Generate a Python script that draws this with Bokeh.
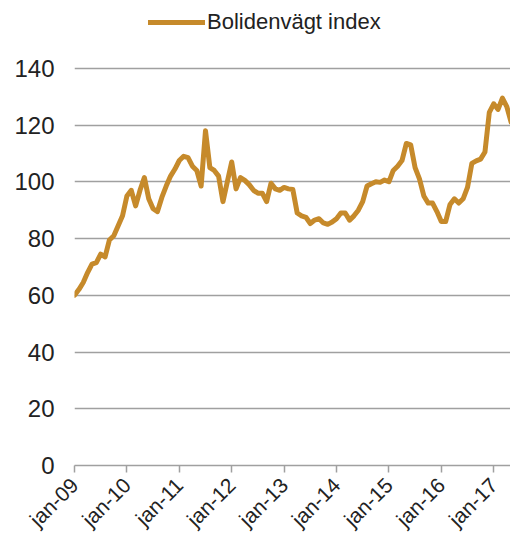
import math
from bokeh.plotting import figure
from bokeh.models import ColumnDataSource, Range1d, FixedTicker, Legend, LegendItem
from bokeh.embed import file_html
from bokeh.resources import INLINE

# month index since jan-2009
months = list(range(101))
index_values = [
    60, 62, 64.5, 68, 71, 71.5, 74.5, 73.5, 79.5, 81, 84.5, 88,
    95, 97, 91.5, 97, 101.5, 94, 90.5, 89.5, 94.5, 98.5, 102, 104.5,
    107.5, 109, 108.5, 105.5, 104, 98.5, 118, 105, 104, 102, 93, 100,
    107, 97.5, 101.5, 100.5, 99, 97, 96, 96, 93, 99.5, 97.5, 97,
    98, 97.5, 97.3, 89, 88, 87.5, 85.3, 86.5, 87, 85.5, 85, 85.8,
    87, 89, 89, 86.5, 88, 90, 93, 98.5, 99.3, 100, 99.8, 100.6,
    100, 104, 105.5, 107.5, 113.5, 113, 105, 101, 95, 92.5, 92.5, 89.5,
    86, 86, 92, 94, 92.5, 94, 98, 106.5, 107.4, 108, 110.5, 124.5,
    127.5, 125.5, 129.5, 126.5, 121,
]
tick_months = [0, 12, 24, 36, 48, 60, 72, 84, 96]
tick_labels = ["jan-09", "jan-10", "jan-11", "jan-12", "jan-13", "jan-14", "jan-15", "jan-16", "jan-17"]
y_ticks = [0, 20, 40, 60, 80, 100, 120, 140]

FONT = "Liberation Sans"
LINE_COLOR = "#C68A2B"
GRID_COLOR = "#A0A0A0"
TEXT_COLOR = "#222222"

src = ColumnDataSource(dict(x=months, y=index_values))

# y range extends above 140 so the legend sits in the free space at the top
p = figure(width=510, height=542, output_backend="svg", toolbar_location=None,
           x_range=Range1d(0, 99.85), y_range=Range1d(0, 163.9),
           min_border_left=74, min_border_right=0, min_border_top=0, min_border_bottom=76)
p.outline_line_color = None
p.background_fill_color = "white"
p.border_fill_color = "white"

r = p.line("x", "y", source=src, line_color=LINE_COLOR, line_width=5,
           line_join="round", line_cap="round")

# axes
p.xaxis.ticker = FixedTicker(ticks=tick_months)
p.xaxis.major_label_overrides = {m: l for m, l in zip(tick_months, tick_labels)}
p.xaxis.major_label_orientation = math.pi / 4
p.xaxis.axis_line_color = GRID_COLOR
p.xaxis.axis_line_width = 1.5
p.xaxis.major_tick_line_color = GRID_COLOR
p.xaxis.major_tick_line_width = 1.5
p.xaxis.major_tick_out = 7
p.xaxis.major_tick_in = 0
p.xaxis.minor_tick_line_color = None
p.xaxis.major_label_text_font = FONT
p.xaxis.major_label_text_font_size = "21px"
p.xaxis.major_label_text_color = TEXT_COLOR
p.xaxis.major_label_standoff = 9

p.yaxis.ticker = FixedTicker(ticks=y_ticks)
p.yaxis.axis_line_color = None
p.yaxis.major_tick_line_color = None
p.yaxis.minor_tick_line_color = None
p.yaxis.major_tick_out = 0
p.yaxis.major_label_standoff = 20
p.yaxis.major_label_text_font = FONT
p.yaxis.major_label_text_font_size = "24px"
p.yaxis.major_label_text_color = TEXT_COLOR

p.xgrid.grid_line_color = None
p.ygrid.grid_line_color = GRID_COLOR
p.ygrid.grid_line_width = 1.5
p.ygrid.ticker = FixedTicker(ticks=y_ticks)

legend = Legend(items=[LegendItem(label="Bolidenvägt index", renderers=[r])],
                location=(74, 430), orientation="horizontal",
                border_line_color=None, background_fill_alpha=0,
                padding=0, margin=0, glyph_width=57, glyph_height=26,
                label_standoff=2, label_text_font=FONT, label_text_font_size="22px",
                label_text_color=TEXT_COLOR, label_height=26)
p.add_layout(legend, "center")

open("out.html", "w").write(file_html(p, INLINE))
